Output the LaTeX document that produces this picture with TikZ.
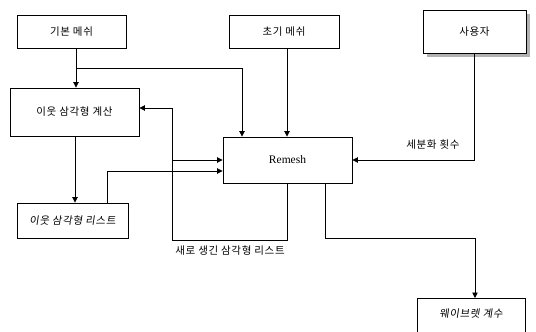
\documentclass[tikz,border=0pt]{standalone}
\usepackage{fontspec}
\setmainfont{Liberation Serif}
\newfontfamily\kr[LetterSpace=6]{Noto Sans CJK KR}
\newfontfamily\krs[FakeSlant=0.15,LetterSpace=6]{Noto Sans CJK KR}
\usetikzlibrary{arrows.meta}
\begin{document}
\begin{tikzpicture}[x=1pt,y=-1pt,
  box/.style={draw,line width=0.9pt,fill=white,inner sep=0pt,font=\kr\fontsize{10.5}{12}\selectfont},
  arr/.style={line width=0.9pt,-{Triangle[length=5.5pt,width=5.5pt]}},
  lab/.style={font=\kr\fontsize{10.5}{12}\selectfont,inner sep=0pt}]
\clip (0,0) rectangle (536,332);
\fill[white] (0,0) rectangle (536,332);
% boxes
\node[box,minimum width=109pt,minimum height=33pt] (base) at (71.5,31.5) {기본 메쉬};
\node[box,minimum width=110pt,minimum height=33pt] (init) at (284,31.5) {초기 메쉬};
\fill[gray!60] (427,14) rectangle (530,57);
\node[box,minimum width=103pt,minimum height=43pt] (user) at (474.5,31.5) {사용자};
\node[box,minimum width=129pt,minimum height=48pt] (calc) at (74.5,112) {이웃 삼각형 계산};
\node[box,minimum width=129pt,minimum height=46pt,font=\fontsize{11.5}{13}\selectfont] (remesh) at (287.5,160) {Remesh};
\node[box,minimum width=111pt,minimum height=35pt,font=\krs\fontsize{10.5}{12}\selectfont] (list) at (72.5,220.5) {이웃 삼각형 리스트};
\node[box,anchor=north,minimum width=108pt,inner ysep=8pt,text height=11pt,text depth=30pt,font=\krs\fontsize{10.5}{12}\selectfont] (wave) at (471,298) {웨이브렛 계수};
% coordinates
\coordinate (j1) at (76,68);
\coordinate (xa) at (242,0);
\coordinate (xb) at (287,0);
\coordinate (xc) at (75,0);
\coordinate (xd) at (107,0);
\coordinate (yd) at (0,171);
\coordinate (lb) at (172,240);
\coordinate (ya) at (0,108);
\coordinate (xe) at (325,0);
\coordinate (yc) at (0,238);
\coordinate (xf) at (475,0);
% connectors
\draw[arr] (j1 |- base.south) -- (j1 |- calc.north);
\draw[arr] (j1) -| (xa |- remesh.north);
\draw[arr] (xb |- init.south) -- (xb |- remesh.north);
\draw[arr] (user.south) |- (remesh.east);
\node[lab] (cnt) at (433,145) {세분화 횟수};
\draw[arr] (xc |- calc.south) -- (xc |- list.north);
\draw[arr] (xd |- list.north) |- (remesh.west |- yd);
\draw[arr] (remesh.south) |- (lb) |- (calc.east |- ya);
\draw[arr] (lb |- remesh.west) -- (remesh.west);
\node[lab] (newl) at (230,251) {새로 생긴 삼각형 리스트};
\draw[arr] (xe |- remesh.south) -- (xe |- yc) -| (xf |- wave.north);
\end{tikzpicture}
\end{document}
